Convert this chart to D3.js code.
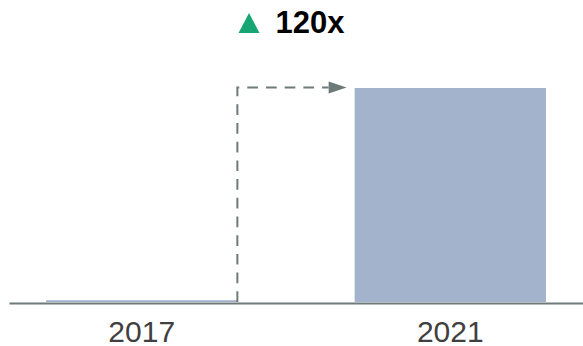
<!DOCTYPE html>
<html>
<head>
<meta charset="utf-8">
<script src="https://cdn.jsdelivr.net/npm/d3@7"></script>
<style>
  html, body { margin: 0; padding: 0; background: #fff; }
  svg { display: block; }
</style>
</head>
<body>
<svg id="chart" width="583" height="346"></svg>
<script>
// Data
const years = ["2017", "2021"];
const values = [1, 120];
const growthLabel = "120x";

const width = 583, height = 346;
const svg = d3.select("#chart");

const x = d3.scaleBand()
  .domain(years)
  .range([9, 583])
  .paddingInner(0.38)
  .paddingOuter(0.12);

const y = d3.scaleLinear()
  .domain([0, d3.max(values)])
  .range([302, 88]);

const barColor = "#a2b3cb";
const lineColor = "#6e7a7a";

// Bars
svg.append("g")
  .selectAll("rect")
  .data(years)
  .join("rect")
  .attr("x", d => x(d))
  .attr("width", x.bandwidth())
  .attr("y", (d, i) => y(values[i]))
  .attr("height", (d, i) => y(0) - y(values[i]))
  .attr("fill", barColor);

// Baseline axis with year labels
const axis = svg.append("g")
  .attr("transform", `translate(0,${y(0) + 1})`)
  .call(d3.axisBottom(x).tickSize(0).tickSizeOuter(0).tickPadding(18));
axis.select(".domain")
  .attr("stroke", lineColor)
  .attr("stroke-width", 2);
axis.selectAll(".tick text")
  .attr("font-family", "'Liberation Sans', Arial, sans-serif")
  .attr("font-size", 30)
  .attr("fill", "#404040");

// Dashed connector from the first bar to the second, with arrowhead
const x0 = x(years[0]) + x.bandwidth();
const yTop = y(values[1]) - 0.5;
const tipX = x(years[1]) - 8;
const headLen = 18, headHalf = 6;

svg.append("path")
  .attr("d", `M${x0},${y(0)} V${yTop} H${tipX - headLen}`)
  .attr("fill", "none")
  .attr("stroke", lineColor)
  .attr("stroke-width", 2)
  .attr("stroke-dasharray", "10.7,8");

svg.append("path")
  .attr("d", `M${tipX - headLen},${yTop - headHalf} L${tipX},${yTop} L${tipX - headLen},${yTop + headHalf} Z`)
  .attr("fill", lineColor);

// Growth title: green up-triangle and bold multiplier
const title = svg.append("g");
const label = title.append("text")
  .attr("font-family", "'Liberation Sans', Arial, sans-serif")
  .attr("font-weight", "bold")
  .attr("font-size", 31)
  .attr("fill", "#000")
  .attr("y", 33)
  .text(growthLabel);

const textW = label.node().getComputedTextLength();
const triW = 21, triH = 20, gap = 16;
const totalW = triW + gap + textW;
const startX = width / 2 - totalW / 2;

label.attr("x", startX + triW + gap);
title.append("path")
  .attr("d", `M${startX},${33} L${startX + triW / 2},${33 - triH} L${startX + triW},${33} Z`)
  .attr("fill", "#17a673");
</script>
</body>
</html>
